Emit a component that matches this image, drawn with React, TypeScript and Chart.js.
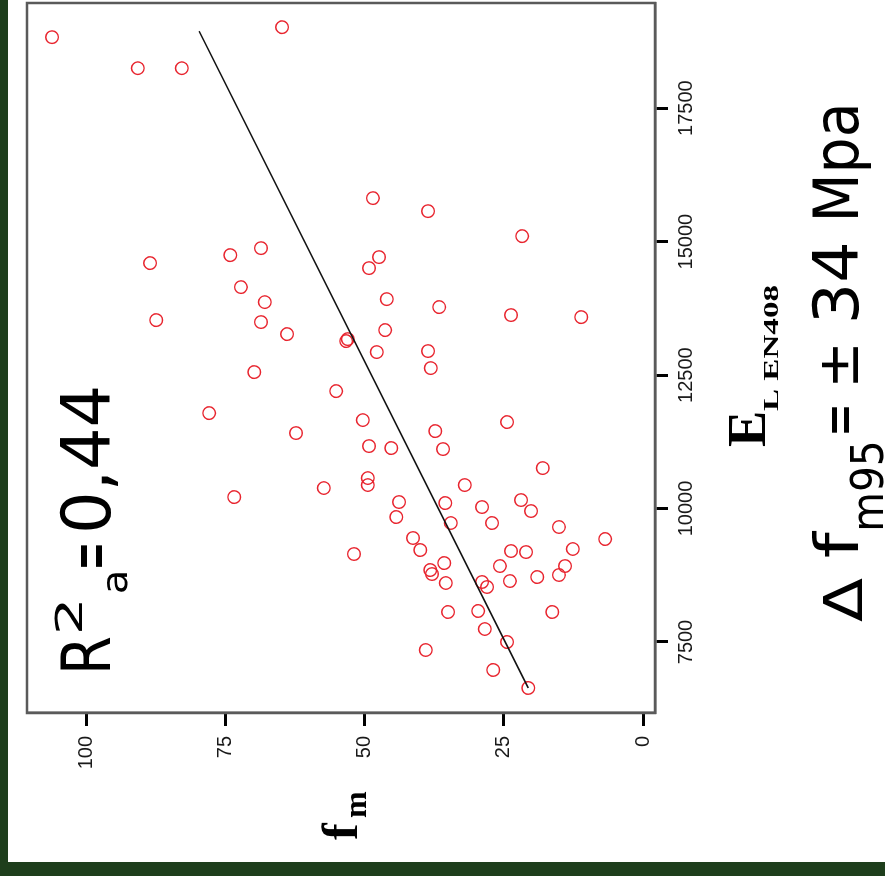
import React, { useEffect, useRef } from "react";
import { Chart, registerables } from "chart.js";

Chart.register(...registerables);

// Modulus of elasticity E_L (EN408), MPa
const modulusE = [
  18830, 18249, 18249, 19017, 14598, 14747, 14878, 14148, 13867, 15815,
  15571, 15103, 14710, 14504, 13923, 13774, 13624, 13586, 13343, 13137,
  13174, 12931, 12950, 12631, 13530, 13493, 13268, 12556, 12200, 11788,
  11414, 10384, 10215, 11657, 11451, 11620, 11170, 11133, 11114, 10758,
  10571, 10440, 10440, 10122, 9841, 10103, 9729, 10028, 9729, 10159,
  9953, 9654, 9429, 9448, 9223, 9148, 8979, 8848, 8773, 8605,
  8923, 9204, 9185, 9242, 8923, 8755, 8717, 8642, 8624, 8530,
  8062, 8081, 8062, 7743, 7500, 7350, 6976, 6639,
];
// Bending strength f_m, MPa
const strengthFm = [
  106.1, 90.7, 82.8, 64.8, 88.5, 74.1, 68.6, 72.2, 67.9, 48.5,
  38.6, 21.7, 47.4, 49.2, 46.0, 36.6, 23.7, 11.1, 46.3, 53.3,
  53.0, 47.8, 38.6, 38.1, 87.4, 68.6, 63.9, 69.8, 55.1, 77.9,
  62.3, 57.3, 73.4, 50.3, 37.3, 24.4, 49.2, 45.2, 35.9, 18.0,
  49.4, 49.4, 32.0, 43.8, 44.3, 35.5, 34.5, 28.9, 27.1, 21.9,
  20.1, 15.1, 6.8, 41.3, 40.0, 51.9, 35.7, 38.2, 37.9, 35.4,
  25.7, 23.7, 21.0, 12.6, 14.0, 15.1, 19.0, 23.9, 28.9, 28.0,
  35.0, 29.6, 16.3, 28.4, 24.4, 39.0, 26.9, 20.6,
];
// Regression line end points
const fitE = [6639, 18942];
const fitFm = [20.6, 79.7];
// Axis ticks
const eTicks = [7500, 10000, 12500, 15000, 17500];
const fmTicks = [0, 25, 50, 75, 100];

const W = 876; // unrotated width  (= image height)
const H = 885; // unrotated height (= image width)

const SANS = '"DejaVu Sans", "Liberation Sans", sans-serif';
const SERIF = '"Liberation Serif", "DejaVu Serif", serif';

function fitW(ctx: CanvasRenderingContext2D, text: string, u0: number, u1: number, base: number, font: string) {
  ctx.font = font;
  const m = ctx.measureText(text);
  const ink = m.actualBoundingBoxLeft + m.actualBoundingBoxRight;
  const sx = (u1 - u0) / ink;
  ctx.save();
  ctx.translate(u0, base);
  ctx.scale(sx, 1);
  ctx.fillText(text, m.actualBoundingBoxLeft, 0);
  ctx.restore();
}

function fitBox(ctx: CanvasRenderingContext2D, text: string, u0: number, u1: number, v0: number, v1: number, font: string) {
  ctx.font = font;
  const m = ctx.measureText(text);
  const iw = m.actualBoundingBoxLeft + m.actualBoundingBoxRight;
  const ih = m.actualBoundingBoxAscent + m.actualBoundingBoxDescent;
  const sx = (u1 - u0) / iw;
  const sy = (v1 - v0) / ih;
  ctx.save();
  ctx.translate(u0, v0);
  ctx.scale(sx, sy);
  ctx.fillText(text, m.actualBoundingBoxLeft, m.actualBoundingBoxAscent);
  ctx.restore();
}

const decorPlugin = {
  id: "decor",
  afterDraw(chart: any) {
    const ctx: CanvasRenderingContext2D = chart.ctx;
    const a = chart.chartArea;
    ctx.save();
    // frame
    ctx.strokeStyle = "#5a5a5a";
    ctx.lineWidth = 2.5;
    ctx.strokeRect(a.left, a.top, a.right - a.left, a.bottom - a.top);

    ctx.fillStyle = "#000";
    ctx.textAlign = "left";
    ctx.textBaseline = "alphabetic";

    // R²a = 0,44
    fitW(ctx, "R", 206, 239, 110, `68px ${SANS}`);
    fitW(ctx, "2", 244, 273, 82, `37px ${SANS}`);
    fitW(ctx, "a", 284, 303, 127, `36px ${SANS}`);
    fitBox(ctx, "=", 309, 331, 80, 102, `50px ${SANS}`);
    fitW(ctx, "0,44", 346, 488, 110, `68px ${SANS}`);

    // Δ f m95 = ± 34 Mpa
    fitBox(ctx, "\u0394", 254, 298, 822, 862, `60px ${SANS}`);
    fitW(ctx, "f", 319, 346, 858, `60px ${SANS}`);
    fitW(ctx, "m95", 348, 433, 883, `44px ${SANS}`);
    fitBox(ctx, "=", 443, 469, 830, 848, `50px ${SANS}`);
    fitBox(ctx, "\u00B1", 493, 529, 822, 858, `60px ${SANS}`);
    fitW(ctx, "34", 556, 631, 858, `62px ${SANS}`);
    fitW(ctx, "Mpa", 659, 769, 858, `62px ${SANS}`);

    // axis title E_L EN408
    fitBox(ctx, "E", 429, 463, 728, 765, `bold 56px ${SERIF}`);
    fitW(ctx, "L EN408", 465, 591, 778, `bold 22px ${SERIF}`);

    // axis title f_m
    ctx.font = `bold 50px ${SERIF}`;
    ctx.fillText("f", 36, 357);
    ctx.font = `bold 32px ${SERIF}`;
    ctx.fillText("m", 58, 366);
    ctx.restore();
  },
};

export default function App() {
  const ref = useRef<HTMLCanvasElement | null>(null);

  useEffect(() => {
    if (!ref.current) return;
    const points = modulusE.map((e, i) => ({ x: e, y: strengthFm[i] }));
    const fit = fitE.map((e, i) => ({ x: e, y: fitFm[i] }));
    const tickFont = { family: '"Liberation Sans", Arial, sans-serif', size: 20 };
    const chart = new Chart(ref.current, {
      type: "scatter",
      data: {
        datasets: [
          {
            type: "line",
            data: fit,
            borderColor: "#111",
            borderWidth: 1.6,
            pointRadius: 0,
            fill: false,
          } as any,
          {
            data: points,
            pointRadius: 6.3,
            pointBorderWidth: 1.4,
            pointBorderColor: "rgb(232,36,46)",
            pointBackgroundColor: "rgba(0,0,0,0)",
            borderColor: "rgb(232,36,46)",
            backgroundColor: "rgba(0,0,0,0)",
          },
        ],
      },
      options: {
        responsive: false,
        animation: false,
        devicePixelRatio: 1,
        layout: { autoPadding: false, padding: { left: 0, right: 3, top: 27, bottom: 0 } },
        plugins: { legend: { display: false }, tooltip: { enabled: false } },
        scales: {
          x: {
            type: "linear",
            position: "bottom",
            min: 6170,
            max: 19470,
            afterBuildTicks: (s: any) => {
              s.ticks = eTicks.map((v) => ({ value: v }));
            },
            afterFit: (s: any) => {
              s.height = 230;
            },
            grid: { drawOnChartArea: false, drawTicks: true, tickLength: 13, tickWidth: 3, tickColor: "#000" },
            border: { display: true, color: "#5a5a5a", width: 2.5 },
            ticks: { font: tickFont, color: "#1a1a1a", padding: 6, maxRotation: 0, callback: (v: any) => String(v) },
          },
          y: {
            type: "linear",
            position: "left",
            min: -2.15,
            max: 110.6,
            afterBuildTicks: (s: any) => {
              s.ticks = fmTicks.map((v) => ({ value: v }));
            },
            afterFit: (s: any) => {
              s.width = 163;
            },
            grid: { drawOnChartArea: false, drawTicks: true, tickLength: 13, tickWidth: 3, tickColor: "#000" },
            border: { display: true, color: "#5a5a5a", width: 2.5 },
            ticks: { font: tickFont, color: "#1a1a1a", padding: 10, callback: (v: any) => String(v) },
          },
        },
      } as any,
      plugins: [decorPlugin],
    });
    return () => chart.destroy();
  }, []);

  return (
    <div
      style={{
        position: "fixed",
        left: 0,
        top: 0,
        width: 885,
        height: 876,
        overflow: "hidden",
        background: "#1e3e1c",
      }}
    >
      <div style={{ position: "absolute", left: 8, top: 0, width: 877, height: 862, background: "#fff" }} />
      <div
        style={{
          position: "absolute",
          left: 0,
          top: 0,
          width: W,
          height: H,
          transformOrigin: "0 0",
          transform: `translateY(${W}px) rotate(-90deg)`,
        }}
      >
        <canvas ref={ref} width={W} height={H} style={{ width: W, height: H, display: "block" }} />
      </div>
    </div>
  );
}
